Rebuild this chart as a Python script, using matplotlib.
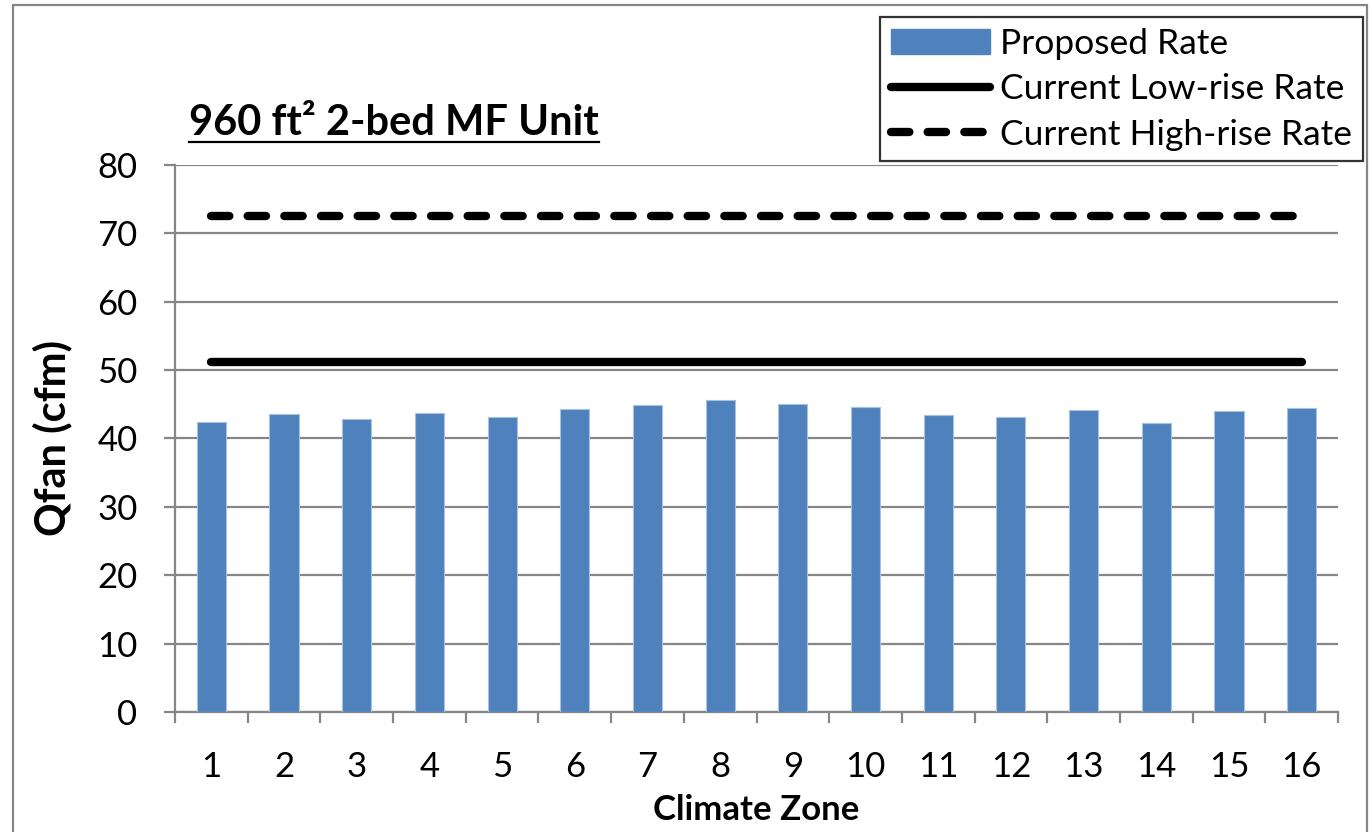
import matplotlib
matplotlib.use("Agg")
import matplotlib.pyplot as plt
from matplotlib.lines import Line2D
from matplotlib.patches import Rectangle
import numpy as np

plt.rcParams['font.family'] = ['Lato', 'DejaVu Sans']

# Ventilation fan rate per climate zone
zones = list(range(1, 17))
proposed = [42.4, 43.6, 42.8, 43.8, 43.2, 44.3, 44.9, 45.65,
            45.1, 44.6, 43.4, 43.2, 44.2, 42.3, 44.0, 44.4]
low_rise = 51.2
high_rise = 72.6

W, H = 1372, 832
fig = plt.figure(figsize=(W / 100, H / 100), dpi=100)
ax = fig.add_axes([175 / W, 1 - 712 / H, (1338 - 175) / W, (712 - 165) / H])

grey = '#868686'
x = np.array(zones)
ax.bar(x, proposed, width=0.4, color='#4F81BD', edgecolor='#A9C2E0', linewidth=0.8, zorder=3)
ax.plot(x, [low_rise] * len(x), color='black', linewidth=6, solid_capstyle='round', zorder=4)
ax.plot(x, [high_rise] * len(x), color='black', linewidth=6, dashes=(2.2, 2.2),
        dash_capstyle='round', zorder=4)

ax.set_xlim(0.5, 16.5)
ax.set_ylim(0, 80)
ax.set_yticks(np.arange(0, 81, 10))
ax.yaxis.grid(True, color=grey, linewidth=1.6, zorder=0)
ax.set_axisbelow(True)

ax.set_xticks(x)
ax.set_xticklabels([str(z) for z in zones])
ax.set_xticks(np.arange(0.5, 16.6, 1), minor=True)
ax.tick_params(axis='x', which='major', length=0, pad=28, labelsize=25)
ax.tick_params(axis='x', which='minor', length=8, width=1.6, color=grey, direction='out')
ax.tick_params(axis='y', length=8, width=1.6, color=grey, direction='out', pad=19, labelsize=25)

for side in ['top', 'right']:
    ax.spines[side].set_visible(False)
for side in ['left', 'bottom']:
    ax.spines[side].set_color(grey)
    ax.spines[side].set_linewidth(1.6)

ax.set_ylabel('Qfan (cfm)', fontsize=30, fontweight='bold', labelpad=18)
ax.set_xlabel('Climate Zone', fontsize=25, fontweight='bold', labelpad=8)

# Title with underline
title = fig.text(189 / W, 1 - 135 / H, '960 ft\u00b2 2-bed MF Unit', fontsize=30,
                 fontweight='bold', ha='left', va='baseline')
fig.canvas.draw()
bb = title.get_window_extent()
uy = 1 - 142 / H
fig.add_artist(Line2D([bb.x0 / W, bb.x1 / W], [uy, uy], color='black', linewidth=1.6,
                      transform=fig.transFigure))

# Chart border
fig.add_artist(Rectangle((13 / W, -0.05), (1367 - 13) / W, 1.05 - 5 / H, fill=False,
                         edgecolor=grey, linewidth=1.6, transform=fig.transFigure))

handles = [Rectangle((0, 0), 1, 1, color='#4F81BD'),
           Line2D([], [], color='black', linewidth=6, solid_capstyle='round'),
           Line2D([], [], color='black', linewidth=6, dashes=(2.2, 2.2), dash_capstyle='round')]
labels = ['Proposed Rate', 'Current Low-rise Rate', 'Current High-rise Rate']
leg = fig.legend(handles, labels, loc='upper right', bbox_to_anchor=(1363 / W, 1 - 17 / H),
                 fontsize=25.5, frameon=True, fancybox=False, handlelength=2.8,
                 handletextpad=0.3, labelspacing=0.38, borderpad=0.3, borderaxespad=0)
leg.get_frame().set_edgecolor('black')
leg.get_frame().set_linewidth(1.6)

fig.savefig('out.png', dpi=100)
